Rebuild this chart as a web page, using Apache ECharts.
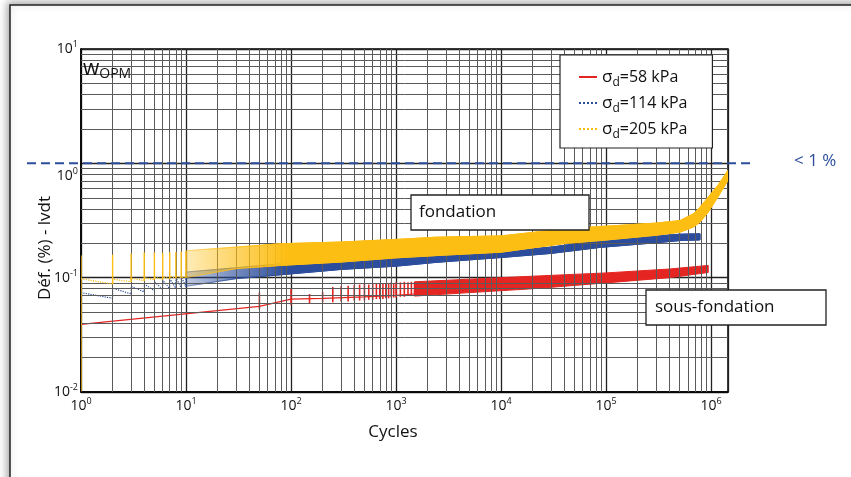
<!DOCTYPE html>
<html>
<head>
<meta charset="utf-8">
<script src="https://cdn.jsdelivr.net/npm/echarts@6/dist/echarts.min.js"></script>
<style>
    html, body { margin: 0; padding: 0; background: #fff; }
    #chart { width: 851px; height: 477px; }
</style>
</head>
<body>
<div id="chart"></div>
<script>
// values (x = cycles, y = deformation %)
let redLineN = [1, 50, 100, 200, 500, 1000, 1500];
let redLineV = [0.039, 0.056, 0.065, 0.066, 0.068, 0.070, 0.072];
let redSpikeN  = [50, 100, 150, 200, 250, 300, 350, 400, 450, 500, 550, 600, 650, 700, 750, 800, 850, 900, 950, 1000, 1100, 1200, 1300, 1400, 1500];
let redSpikeLo = [0.053, 0.058, 0.060, 0.061, 0.061, 0.062, 0.062, 0.063, 0.063, 0.063, 0.064, 0.064, 0.065, 0.065, 0.065, 0.066, 0.066, 0.067, 0.067, 0.067, 0.068, 0.068, 0.069, 0.069, 0.070];
let redSpikeHi = [0.074, 0.079, 0.072, 0.075, 0.083, 0.084, 0.085, 0.086, 0.087, 0.088, 0.087, 0.089, 0.088, 0.089, 0.090, 0.089, 0.090, 0.091, 0.090, 0.091, 0.091, 0.092, 0.091, 0.092, 0.092];
let redBandN  = [1500, 5000, 20000, 100000, 400000, 940000];
let redBandLo = [0.069, 0.074, 0.080, 0.090, 0.100, 0.111];
let redBandHi = [0.092, 0.097, 0.103, 0.110, 0.119, 0.128];

let blueSpikeN  = [1, 2, 3, 4, 5, 6, 7, 8, 9, 10];
let blueSpikeLo = [0.074, 0.066, 0.072, 0.075, 0.077, 0.079, 0.080, 0.081, 0.082, 0.083];
let blueSpikeHi = [0.074, 0.081, 0.084, 0.088, 0.092, 0.095, 0.098, 0.100, 0.102, 0.104];
let blueBandN  = [10, 30, 80, 300, 1000, 2400, 10000, 30000, 88000, 300000, 507000, 785000];
let blueBandLo = [0.084, 0.098, 0.106, 0.118, 0.126, 0.136, 0.150, 0.163, 0.184, 0.202, 0.211, 0.214];
let blueBandHi = [0.112, 0.122, 0.132, 0.146, 0.156, 0.160, 0.170, 0.185, 0.212, 0.232, 0.240, 0.242];

let yellowSpikeN    = [1, 2, 3, 4, 5, 6, 7, 8, 9, 10];
let yellowSpikeLo   = [0.0101, 0.088, 0.092, 0.094, 0.096, 0.097, 0.098, 0.099, 0.100, 0.101];
let yellowSpikeHi   = [0.156, 0.159, 0.163, 0.166, 0.166, 0.165, 0.167, 0.168, 0.169, 0.170];
let yellowSpikePost = [0.098, 0.097, 0.099, 0.100, 0.101, 0.102, 0.103, 0.104, 0.104, 0.105];
let yellowBandN  = [10, 30, 80, 300, 1000, 2400, 10000, 42000, 88000, 300000, 507000, 680000, 785000, 940000, 1160000, 1450000];
let yellowBandLo = [0.100, 0.120, 0.128, 0.137, 0.149, 0.156, 0.167, 0.200, 0.211, 0.235, 0.250, 0.277, 0.306, 0.374, 0.506, 0.710];
let yellowBandHi = [0.172, 0.185, 0.198, 0.205, 0.216, 0.226, 0.232, 0.268, 0.280, 0.300, 0.316, 0.362, 0.414, 0.506, 0.641, 0.868];

let seriesNames = ['σd=58 kPa', 'σd=114 kPa', 'σd=205 kPa'];
let thresholdV = 1;
// ----------------------------------------------------
let FONT = 'Open Sans';
let RED = '#e52521', BLUE = '#2b4d9c', YELLOW = '#fdbe14';

function pairs(xs, ys) {
    return xs.map((x, i) => [x, ys[i]]);
}
function sawtooth(N, lo, hi) {
    let d = [];
    for (let i = 0; i < N.length; i++) {
        if (i > 0) d.push([N[i], lo[i]]);
        d.push([N[i], hi[i]]);
    }
    return d;
}
function spikeSeries(name, color, N, lo, hi, w, z) {
    return {
        type: 'custom', name: name, z: z, silent: true, clip: true,
        data: N.map((n, i) => [n, lo[i], hi[i]]),
        encode: { x: 0, y: [1, 2] },
        renderItem: function (params, api) {
            let a = api.coord([api.value(0), api.value(1)]);
            let b = api.coord([api.value(0), api.value(2)]);
            return {
                type: 'line',
                shape: { x1: a[0], y1: a[1], x2: b[0], y2: b[1] },
                style: { stroke: color, lineWidth: w }
            };
        }
    };
}
function bandSeries(name, color, faded, N, lo, hi, fadeTo, z) {
    return {
        type: 'custom', name: name, z: z, silent: true, clip: true,
        data: N.map((n, i) => [n, lo[i], hi[i]]),
        encode: { x: 0, y: [1, 2] },
        renderItem: function (params, api) {
            if (params.dataIndex !== 0) return;
            let pts = [];
            for (let i = 0; i < N.length; i++) pts.push(api.coord([N[i], hi[i]]));
            for (let i = N.length - 1; i >= 0; i--) pts.push(api.coord([N[i], lo[i]]));
            let fill = color;
            if (fadeTo) {
                let x0 = api.coord([N[0], lo[0]])[0];
                let x1 = api.coord([fadeTo, lo[0]])[0];
                fill = {
                    type: 'linear', x: x0, y: 0, x2: x1, y2: 0, global: true,
                    colorStops: [{ offset: 0, color: faded }, { offset: 1, color: color }]
                };
            }
            return {
                type: 'polygon',
                shape: { points: pts },
                style: { fill: fill, stroke: fill, lineWidth: 1 }
            };
        }
    };
}

// minor grid of the log paper
let minorX = [], minorY = [];
for (let e = 0; e <= 5; e++) for (let k = 2; k <= 9; k++) minorX.push({ xAxis: k * Math.pow(10, e) });
for (let e = -2; e <= 0; e++) for (let k = 2; k <= 9; k++) minorY.push({ yAxis: +(k * Math.pow(10, e)).toPrecision(3) });

function powLabel(v) {
    let l = Math.log10(v), e = Math.round(l);
    if (Math.abs(l - e) > 0.01) return '';
    return '{b|10}{s|' + e + '}';
}
function powLabelY(v) {
    let l = Math.log10(v), e = Math.round(l);
    if (Math.abs(l - e) > 0.01) return '';
    // the 10^0 label sits a little under its line in the original
    if (e === 0) return '{b0|10}{s0|0}';
    return '{b|10}{s|' + e + '}';
}
let powRich = {
    b: { fontFamily: FONT, fontSize: 14, lineHeight: 16, color: '#111' },
    s: { fontFamily: FONT, fontSize: 9, lineHeight: 10, padding: [0, 0, 9, 0], color: '#111' },
    b0: { fontFamily: FONT, fontSize: 14, lineHeight: 16, padding: [26, 0, 0, 0], color: '#111' },
    s0: { fontFamily: FONT, fontSize: 9, lineHeight: 10, padding: [26, 0, 9, 0], color: '#111' }
};

let chart = echarts.init(document.getElementById('chart'));
let option = {
    backgroundColor: '#fff',
    animation: false,
    grid: {
        left: 81, top: 49, right: 123, bottom: 85,
        show: true, borderColor: '#000', borderWidth: 1.5, backgroundColor: 'transparent'
    },
    legend: {
        orient: 'vertical', left: 560, top: 55,
        data: seriesNames,
        itemWidth: 18, itemHeight: 8, itemGap: 2,
        padding: [10, 25, 7, 18],
        backgroundColor: '#fff', borderColor: '#222', borderWidth: 1.2,
        itemStyle: { opacity: 0 },
        z: 50,
        formatter: function (n) {
            return '{g|σ}{d|d}{t|' + n.slice(2) + '}';
        },
        textStyle: {
            fontFamily: FONT, fontSize: 16, color: '#111',
            rich: {
                g: { fontFamily: FONT, fontSize: 17, lineHeight: 20, color: '#111' },
                d: { fontFamily: FONT, fontSize: 12, lineHeight: 10, padding: [12, 0, 0, 0], color: '#111' },
                t: { fontFamily: FONT, fontSize: 16, lineHeight: 20, color: '#111' }
            }
        }
    },
    xAxis: {
        type: 'log', logBase: 10, min: 1, max: 1.45e6,
        axisLine: { show: true, lineStyle: { color: '#000', width: 1.5 } },
        axisTick: { show: false },
        splitLine: { show: true, lineStyle: { color: '#222', width: 1.3 } },
        axisLabel: { margin: 6, formatter: powLabel, rich: powRich }
    },
    yAxis: {
        type: 'log', logBase: 10, min: 0.01, max: 10,
        axisLine: { show: true, lineStyle: { color: '#000', width: 1.5 } },
        axisTick: { show: false },
        splitLine: { show: true, lineStyle: { color: '#222', width: 1.3 } },
        axisLabel: { margin: 3, formatter: powLabelY, rich: powRich }
    },
    series: [
        {
            type: 'line', name: 'grid', data: [], silent: true, z: 1,
            markLine: {
                silent: true, symbol: ['none', 'none'], label: { show: false },
                lineStyle: { color: '#5a5a5a', width: 1, type: 'solid' },
                data: minorX.concat(minorY)
            }
        },
        {
            type: 'line', name: seriesNames[0], z: 3, symbol: 'none',
            data: pairs(redLineN, redLineV),
            lineStyle: { color: RED, width: 1.2 }, itemStyle: { color: RED }
        },
        spikeSeries('r-spk', RED, redSpikeN, redSpikeLo, redSpikeHi, 1.6, 3),
        bandSeries('r-band', RED, RED, redBandN, redBandLo, redBandHi, null, 3),
        {
            type: 'line', name: seriesNames[1], z: 4, symbol: 'none',
            data: sawtooth(blueSpikeN, blueSpikeLo, blueSpikeHi),
            lineStyle: { color: BLUE, width: 1.2, type: 'dotted' }, itemStyle: { color: BLUE }
        },
        bandSeries('b-band', BLUE, 'rgba(43,77,156,0.3)', blueBandN, blueBandLo, blueBandHi, 90, 4),
        {
            type: 'line', name: seriesNames[2], z: 5, symbol: 'none',
            data: sawtooth(yellowSpikeN, yellowSpikeLo, yellowSpikePost),
            lineStyle: { color: YELLOW, width: 1.2, type: 'dotted' }, itemStyle: { color: YELLOW }
        },
        spikeSeries('y-spk', YELLOW, yellowSpikeN, yellowSpikeLo, yellowSpikeHi, 1.4, 5),
        bandSeries('y-band', YELLOW, 'rgba(253,190,20,0.3)', yellowBandN, yellowBandLo, yellowBandHi, 90, 5)
    ]
};
chart.setOption(option);

// annotations, placed once the axes exist
let yThr = chart.convertToPixel({ yAxisIndex: 0 }, thresholdV);
chart.setOption({
    graphic: [
        {
            type: 'rect', z: -10, silent: true,
            shape: { x: 10, y: 5, width: 900, height: 520 },
            style: { fill: '#fff', stroke: '#222', lineWidth: 1.5, shadowBlur: 8, shadowColor: 'rgba(0,0,0,0.35)', shadowOffsetX: -2, shadowOffsetY: -2 }
        },
        {
            type: 'line', z: 60, silent: true,
            shape: { x1: 27, y1: yThr, x2: 752, y2: yThr },
            style: { stroke: BLUE, lineWidth: 2, lineDash: [9, 5] }
        },
        {
            type: 'text', z: 60, x: 794, y: yThr - 2,
            style: { text: '< 1 %', font: '17px "Open Sans"', fill: BLUE, verticalAlign: 'middle' }
        },
        {
            type: 'text', z: 60, left: 83, top: 58,
            style: {
                text: '{w|w}{s|OPM}',
                rich: {
                    w: { fontFamily: FONT, fontSize: 21, lineHeight: 16, fill: '#111' },
                    s: { fontFamily: FONT, fontSize: 14, lineHeight: 14, padding: [9, 0, 0, 0], fill: '#111' }
                }
            }
        },
        {
            type: 'rect', z: 100, shape: { x: 411, y: 195, width: 178, height: 35 },
            style: { fill: '#fff', stroke: '#222', lineWidth: 1.3 }
        },
        {
            type: 'text', z: 101, x: 419, y: 212.5,
            style: { text: 'fondation', font: '17px "Open Sans"', verticalAlign: 'middle', fill: '#111' }
        },
        {
            type: 'rect', z: 100, shape: { x: 646, y: 290, width: 180, height: 35 },
            style: { fill: '#fff', stroke: '#222', lineWidth: 1.3 }
        },
        {
            type: 'text', z: 101, x: 655, y: 307.5,
            style: { text: 'sous-fondation', font: '17px "Open Sans"', verticalAlign: 'middle', fill: '#111' }
        },
        {
            type: 'text', z: 60, x: 393, y: 432,
            style: { text: 'Cycles', font: '17px "Open Sans"', align: 'center', verticalAlign: 'middle', fill: '#111' }
        },
        {
            type: 'text', z: 60, x: 45, y: 248, rotation: Math.PI / 2,
            style: { text: 'Déf. (%) - lvdt', font: '17px "Open Sans"', align: 'center', verticalAlign: 'middle', fill: '#111' }
        }
    ]
});
</script>
</body>
</html>
